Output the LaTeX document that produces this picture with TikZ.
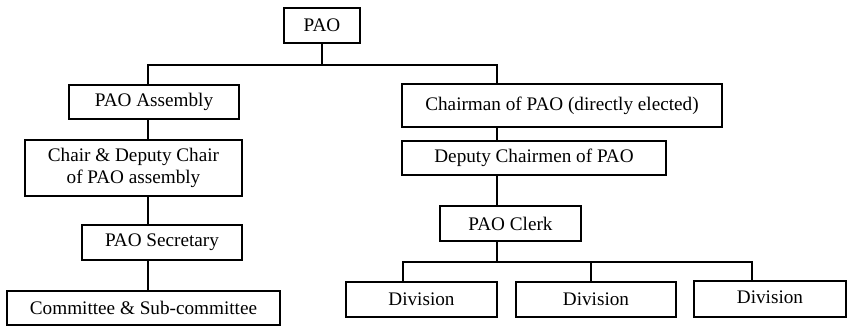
\documentclass[tikz,border=0pt]{standalone}
\usepackage{fontspec}
\setmainfont{Liberation Serif}
\begin{document}
\begin{tikzpicture}[x=1pt,y=-1pt,
  box/.style={draw=black,line width=1.3pt,inner sep=0pt,align=center,
    font=\fontsize{19.2}{22}\selectfont},
  link/.style={draw=black,line width=1.3pt}]
\useasboundingbox (0,0) rectangle (847,326);
% nodes
\node[box,minimum width=76,minimum height=35] (pao) at (322,25.5) {PAO};
\node[box,minimum width=170,minimum height=34] (asm) at (154,102) {PAO Assembly};
\node[box,minimum width=217,minimum height=56] (chair) at (133.5,168) {Chair \& Deputy Chair\\of PAO assembly};
\node[box,minimum width=160,minimum height=35] (sec) at (162,242.5) {PAO Secretary};
\node[box,minimum width=273,minimum height=34] (com) at (143.5,308) {Committee \& Sub-committee};
\node[box,minimum width=320,minimum height=43] (cm) at (562,105.5) {Chairman of PAO (directly elected)};
\node[box,minimum width=264,minimum height=34] (dep) at (534,158) {Deputy Chairmen of PAO};
\node[box,minimum width=141,minimum height=35] (clk) at (510.5,223.5) {PAO Clerk};
\node[box,minimum width=151,minimum height=35] (d1) at (421.5,299.5) {Division};
\node[box,minimum width=160,minimum height=35] (d2) at (596,299.5) {Division};
\node[box,minimum width=152,minimum height=36] (d3) at (770,299) {\raisebox{3pt}{Division}};
% coordinates
\coordinate (bus1) at (322,65);
\coordinate (lx) at (148,0);
\coordinate (rx) at (497,0);
\coordinate (bus2) at (497,262);
\coordinate (d1x) at (403,0);
\coordinate (d2x) at (591,0);
\coordinate (d3x) at (752,0);
% connectors
\draw[link] (pao) -- (bus1);
\draw[link] (lx |- asm.north) -- (lx |- bus1) -- (rx |- bus1) -- (rx |- cm.north);
\draw[link] (lx |- asm.south) -- (lx |- chair.north);
\draw[link] (lx |- chair.south) -- (lx |- sec.north);
\draw[link] (lx |- sec.south) -- (lx |- com.north);
\draw[link] (rx |- cm.south) -- (rx |- dep.north);
\draw[link] (rx |- dep.south) -- (rx |- clk.north);
\draw[link] (rx |- clk.south) -- (bus2);
\draw[link] (d1x |- d1.north) -- (d1x |- bus2) -- (d3x |- bus2) -- (d3x |- d3.north);
\draw[link] (d2x |- bus2) -- (d2x |- d2.north);
\end{tikzpicture}
\end{document}
